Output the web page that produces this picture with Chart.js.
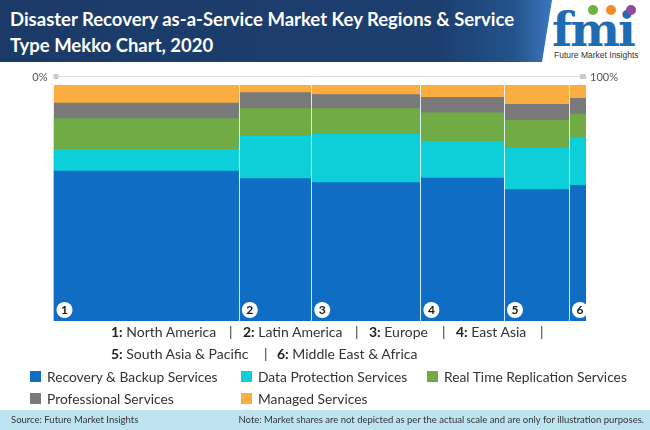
<!DOCTYPE html>
<html>
<head>
<meta charset="utf-8">
<script src="https://cdn.jsdelivr.net/npm/chart.js@4"></script>
<style>
  html, body { margin: 0; padding: 0; background: #fff; }
  #page { position: relative; width: 650px; height: 430px; overflow: hidden; font-family: Lato, "Open Sans", sans-serif; color: #333; }
  #band { position: absolute; left: 0; top: 0; width: 552px; height: 62px;
    background: linear-gradient(90deg, #1b3a68 0%, #1d3f70 80%, #24528c 93%, #3a78bd 100%);
    clip-path: polygon(0 0, 552px 0, 542px 62px, 0 62px); }
  #title { position: absolute; left: 10px; top: 6px; color: #fff; font-weight: bold; font-size: 18.5px; line-height: 26px; white-space: nowrap; }
  #logo { position: absolute; left: 548px; top: 0; width: 102px; height: 62px; }
  #logo .fmi { position: absolute; left: 4px; top: 6px; font-family: "DejaVu Serif", serif; font-weight: bold; font-size: 47px; color: #1e6db3; letter-spacing: -2px; line-height: 48px; }
  #logo .dot { position: absolute; width: 10px; height: 10px; border-radius: 50%; top: 5px; }
  #logo .sub { position: absolute; left: 6px; top: 50px; font-size: 8.5px; color: #333; font-family: "Liberation Sans", sans-serif; white-space: nowrap; }
  #chartBox { position: absolute; left: 0; top: 0; width: 650px; height: 430px; }
  .reg { position: absolute; font-size: 14px; white-space: nowrap; color: #333; }
  .reg b { color: #222; }
  .leg { position: absolute; font-size: 13.8px; white-space: nowrap; color: #333; }
  .sq { position: absolute; width: 11px; height: 11px; }
  #footer { position: absolute; left: 0; top: 410px; width: 650px; height: 20px; background: #bfe4f1; font-size: 9.5px; color: #333; }
  #footer span { position: absolute; top: 4px; white-space: nowrap; }
</style>
</head>
<body>
<div id="page">
  <div id="band"></div>
  <div id="title">Disaster Recovery as-a-Service Market Key Regions &amp; Service<br>Type Mekko Chart, 2020</div>
  <div id="logo">
    <div class="fmi">fmi</div>
    <div class="dot" style="left:40px;background:#6cb33f"></div>
    <div class="dot" style="left:58px;background:#f28c28"></div>
    <div class="dot" style="left:78px;background:#8e4a9c"></div>
    <div class="sub">Future Market Insights</div>
  </div>
  <div id="chartBox"><canvas id="chart"></canvas></div>
  <div id="regionLegend"></div>
  <div id="seriesLegend"></div>
  <div id="footer">
    <span style="left:11px">Source: Future Market Insights</span>
    <span style="right:6px">Note: Market shares are not depicted as per the actual scale and are only for illustration purposes.</span>
  </div>
</div>
<script>
// regions (columns) and their share of the whole market, in %
const regions = ["North America", "Latin America", "Europe", "East Asia", "South Asia & Pacific", "Middle East & Africa"]
const regionShare = [34.8, 13.6, 20.5, 15.7, 12.2, 3.2]

// service type split inside each region, in %
const serviceNames = ["Recovery & Backup Services", "Data Protection Services", "Real Time Replication Services", "Professional Services", "Managed Services"]
const recoveryBackup = [63.7, 60.5, 58.8, 60.7, 55.8, 57.6]
const dataProtection = [9.2, 17.9, 20.4, 15.6, 17.6, 20.2]
const realTimeReplication = [13.0, 11.7, 10.9, 12.0, 11.8, 10.0]
const professionalServices = [6.6, 6.8, 6.0, 6.6, 6.7, 6.7]
const managedServices = [7.5, 3.1, 3.9, 5.1, 8.1, 5.5]

const axisLabels = ["0%", "100%"]
const serviceColors = ["#0f6ec4", "#0dcfd9", "#70ab46", "#7a7a7a", "#fbae3f"]

const seriesValues = [recoveryBackup, dataProtection, realTimeReplication, professionalServices, managedServices]

// left edge of every column on the 0-100 axis
const edges = regionShare.reduce((acc, w) => [...acc, acc[acc.length - 1] + w], [0])

const cumulative = seriesValues.map((_, s) =>
  regions.map((_, i) => seriesValues.slice(0, s + 1).reduce((sum, arr) => sum + arr[i], 0))
)

const datasets = serviceNames.map((name, s) => {
  const points = regions.map((_, i) => ({x: edges[i], y: cumulative[s][i]}))
  points.push({x: 100, y: cumulative[s][regions.length - 1]})
  return {
    label: name,
    data: points,
    stepped: "before",
    fill: "origin",
    backgroundColor: serviceColors[s],
    borderWidth: 0,
    pointRadius: 0,
    order: s
  }
})

const mekkoDecor = {
  id: "mekkoDecor",
  afterDatasetsDraw(chart) {
    const {ctx, chartArea, scales: {x}} = chart
    ctx.save()

    // column separators
    ctx.strokeStyle = "rgba(225,248,255,0.9)"
    ctx.lineWidth = 1
    edges.slice(1, -1).forEach((e) => {
      const px = Math.round(x.getPixelForValue(e)) + 0.5
      ctx.beginPath()
      ctx.moveTo(px, chartArea.top)
      ctx.lineTo(px, chartArea.bottom)
      ctx.stroke()
    })

    // circled region numbers
    regions.forEach((_, i) => {
      const cx = x.getPixelForValue(edges[i]) + 11
      const cy = chartArea.bottom - 11
      ctx.fillStyle = "#fff"
      ctx.beginPath()
      ctx.arc(cx, cy, 8, 0, Math.PI * 2)
      ctx.fill()
      ctx.fillStyle = "#1a1a1a"
      ctx.font = "bold 12px Lato, sans-serif"
      ctx.textAlign = "center"
      ctx.textBaseline = "middle"
      ctx.fillText(String(i + 1), cx, cy + 0.5)
    })

    // top percentage axis
    const ay = chartArea.top - 9
    const x0 = x.getPixelForValue(0)
    const x1 = x.getPixelForValue(100)
    ctx.strokeStyle = "#dcdcdc"
    ctx.beginPath()
    ctx.moveTo(x0 + 5, ay + 0.5)
    ctx.lineTo(x1 - 6, ay + 0.5)
    ctx.stroke()
    ctx.fillStyle = "#cbcbcb"
    ctx.fillRect(x0, ay - 2, 5, 5)
    ctx.fillRect(x1 - 6, ay - 2, 6, 5)
    ctx.fillStyle = "#555"
    ctx.font = "11px Lato, sans-serif"
    ctx.textBaseline = "middle"
    ctx.textAlign = "right"
    ctx.fillText(axisLabels[0], x0 - 6, ay + 1)
    ctx.textAlign = "left"
    ctx.fillText(axisLabels[1], x1 + 4, ay + 1)
    ctx.restore()
  }
}

new Chart(document.getElementById("chart"), {
  type: "line",
  data: {datasets},
  options: {
    responsive: true,
    maintainAspectRatio: false,
    animation: false,
    layout: {padding: {left: 53.5, right: 64, top: 85, bottom: 109}},
    scales: {
      x: {type: "linear", min: 0, max: 100, display: false},
      y: {type: "linear", min: 0, max: 100, display: false}
    },
    plugins: {
      legend: {display: false},
      tooltip: {enabled: false},
      filler: {drawTime: "beforeDatasetDraw"}
    }
  },
  plugins: [mekkoDecor]
})

// region key under the chart
const regionRows = [
  {top: 323, items: [[111, 0], [229, "|"], [243, 1], [355, "|"], [369, 2], [442, "|"], [456, 3], [540, "|"]]},
  {top: 345, items: [[111, 4], [264, "|"], [277, 5]]}
]
const regionLegend = document.getElementById("regionLegend")
regionRows.forEach((row) => {
  row.items.forEach(([left, item]) => {
    const el = document.createElement("div")
    el.className = "reg"
    el.style.left = left + "px"
    el.style.top = row.top + "px"
    el.innerHTML = item === "|" ? "|" : `<b>${item + 1}:</b> ${regions[item].replace("&", "&amp;")}`
    regionLegend.appendChild(el)
  })
})

// service legend
const legendSlots = [[30, 369], [241, 369], [427, 369], [30, 391], [241, 391]]
const seriesLegend = document.getElementById("seriesLegend")
serviceNames.forEach((name, s) => {
  const [left, top] = legendSlots[s]
  const sq = document.createElement("div")
  sq.className = "sq"
  sq.style.left = left + "px"
  sq.style.top = (top + 2) + "px"
  sq.style.background = serviceColors[s]
  seriesLegend.appendChild(sq)
  const el = document.createElement("div")
  el.className = "leg"
  el.style.left = (left + 17) + "px"
  el.style.top = (top - 1) + "px"
  el.textContent = name
  seriesLegend.appendChild(el)
})
</script>
</body>
</html>
